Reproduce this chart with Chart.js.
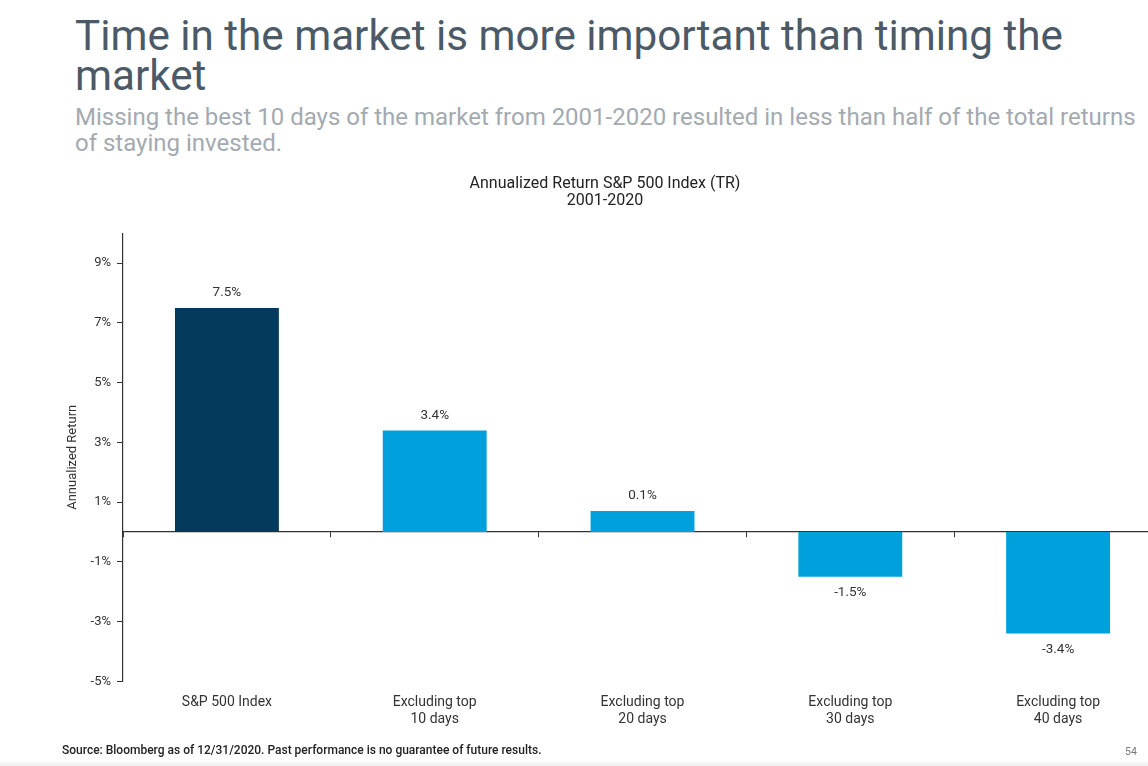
<!DOCTYPE html>
<html>
<head>
<meta charset="utf-8">
<script src="https://cdn.jsdelivr.net/npm/chart.js@4"></script>
<style>
  html, body { margin: 0; padding: 0; width: 1148px; height: 766px; overflow: hidden; background: #fff; }
  #title { position: absolute; left: 75px; top: 16px; width: 1010px; font-family: Roboto, "Noto Sans", sans-serif; font-size: 42.2px; line-height: 40px; color: #4b5a66; font-weight: 400; }
  #subtitle { position: absolute; left: 75px; top: 104px; width: 1072px; font-family: Roboto, "Noto Sans", sans-serif; font-size: 24px; line-height: 26px; color: #a3aab0; }
  #wrap { position: absolute; left: 0; top: 165px; width: 1210px; height: 601px; }
  #footer { position: absolute; left: 62px; top: 743px; font-family: Roboto, "Noto Sans", sans-serif; font-size: 12px; font-weight: 500; color: #222; }
  #page { position: absolute; left: 1125px; top: 745px; font-family: Roboto, "Noto Sans", sans-serif; font-size: 10.5px; color: #777; }
  #band { position: absolute; left: 0; top: 761px; width: 1148px; height: 5px; background: linear-gradient(#fafafa, #f0f0f0); }
</style>
</head>
<body>
<div id="title">Time in the market is more important than timing the market</div>
<div id="subtitle">Missing the best 10 days of the market from 2001-2020 resulted in less than half of the total returns of staying invested.</div>
<div id="wrap"><canvas id="c"></canvas></div>
<div id="footer">Source: Bloomberg as of 12/31/2020. Past performance is no guarantee of future results.</div>
<div id="page">54</div>
<div id="band"></div>
<script>
const categories = [["S&P 500 Index"], ["Excluding top", "10 days"], ["Excluding top", "20 days"], ["Excluding top", "30 days"], ["Excluding top", "40 days"]];
const returnValues = [7.5, 3.4, 0.7, -1.5, -3.4];
const valueLabels = ["7.5%", "3.4%", "0.1%", "-1.5%", "-3.4%"];
const barColors = ["#033a5c", "#00a0dc", "#00a0dc", "#00a0dc", "#00a0dc"];
const yTickValues = [-5, -3, -1, 1, 3, 5, 7, 9];
const chartTitle = ["Annualized Return S&P 500 Index (TR)", "2001-2020"];
const yAxisTitle = "Annualized Return";

const FONT = "Roboto, 'Noto Sans', sans-serif";

const valueLabelPlugin = {
  id: 'valueLabels',
  afterDatasetsDraw(chart) {
    const ctx = chart.ctx;
    const meta = chart.getDatasetMeta(0);
    ctx.save();
    ctx.font = "13.5px " + FONT;
    ctx.fillStyle = "#333";
    ctx.textAlign = "center";
    ctx.textBaseline = "middle";
    meta.data.forEach((bar, i) => {
      const v = returnValues[i];
      const y = v >= 0 ? bar.y - 15 : bar.y + 16;
      ctx.fillText(valueLabels[i], bar.x, y);
    });
    ctx.restore();
  }
};

new Chart(document.getElementById('c'), {
  type: 'bar',
  data: {
    labels: categories,
    datasets: [{
      data: returnValues,
      backgroundColor: barColors,
      borderWidth: 0,
      barPercentage: 0.5,
      categoryPercentage: 1.0
    }]
  },
  options: {
    responsive: true,
    maintainAspectRatio: false,
    animation: false,
    layout: { padding: { left: 48, right: 48, top: 0, bottom: 25 } },
    plugins: {
      legend: { display: false },
      tooltip: { enabled: false },
      title: {
        display: true,
        text: chartTitle,
        color: "#222",
        font: { family: FONT, size: 16, weight: 'normal', lineHeight: 1.1 },
        padding: { top: 10, bottom: 23 }
      }
    },
    scales: {
      x: {
        type: 'category',
        offset: true,
        grid: { display: false, drawTicks: false },
        border: { display: false },
        ticks: { color: "#333", font: { family: FONT, size: 14, lineHeight: 1.2 }, padding: 13, maxRotation: 0, autoSkip: false }
      },
      x0: {
        type: 'category',
        axis: 'x',
        position: { y: 0 },
        offset: true,
        grid: { offset: true, drawOnChartArea: false, drawTicks: true, tickLength: 5, color: "#333", lineWidth: 1 },
        border: { display: true, color: "#333", width: 1.2 },
        ticks: { display: false }
      },
      y: {
        type: 'linear',
        min: -5,
        max: 10,
        afterBuildTicks(scale) { scale.ticks = yTickValues.map(v => ({ value: v })); },
        grid: { drawOnChartArea: false, drawTicks: true, tickLength: 6, color: "#333" },
        border: { display: true, color: "#333", width: 1.2 },
        ticks: { color: "#333", font: { family: FONT, size: 13 }, padding: 6, callback: v => v + "%" },
        title: { display: true, text: yAxisTitle, color: "#333", font: { family: FONT, size: 13 }, padding: { top: 17, bottom: 4 } }
      }
    }
  },
  plugins: [valueLabelPlugin]
});
</script>
</body>
</html>
